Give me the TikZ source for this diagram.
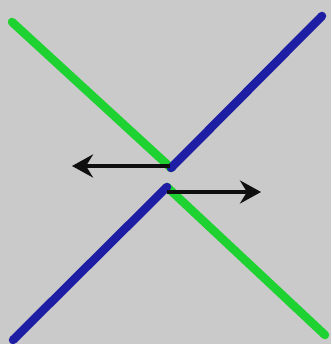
\documentclass[tikz,border=0pt]{standalone}
\usetikzlibrary{arrows.meta}
\definecolor{bg}{RGB}{202,202,202}
\definecolor{lgreen}{RGB}{30,210,50}
\definecolor{lblue}{RGB}{30,30,165}
\definecolor{arr}{RGB}{15,15,15}
\tikzset{
  colline/.style={line width=8.5pt,line cap=round},
  vecarrow/.style={draw=arr,line width=3.8pt,-{Stealth[length=21pt,width=23pt,inset=7pt]}}
}
\begin{document}
\begin{tikzpicture}[x=1pt,y=-1pt]
\fill[bg] (0,0) rectangle (331,344);
\useasboundingbox (0,0) rectangle (331,344);
\coordinate (gtl) at (12,22);
\coordinate (cu) at (171,168);
\coordinate (btr) at (322,16);
\coordinate (bbl) at (13,340);
\coordinate (cl) at (167,187);
\coordinate (gbr) at (325,335);
\coordinate (a1s) at (170,166);
\coordinate (a1e) at (72,166);
\coordinate (a2s) at (167,192);
\coordinate (a2e) at (261,192);
\draw[colline,lgreen] (gtl) -- (cu);
\draw[colline,lblue] (cu) -- (btr);
\draw[colline,lgreen] (cl) -- (gbr);
\draw[colline,lblue] (bbl) -- (cl);
\draw[vecarrow] (a1s) -- (a1e);
\draw[vecarrow] (a2s) -- (a2e);
\end{tikzpicture}
\end{document}
